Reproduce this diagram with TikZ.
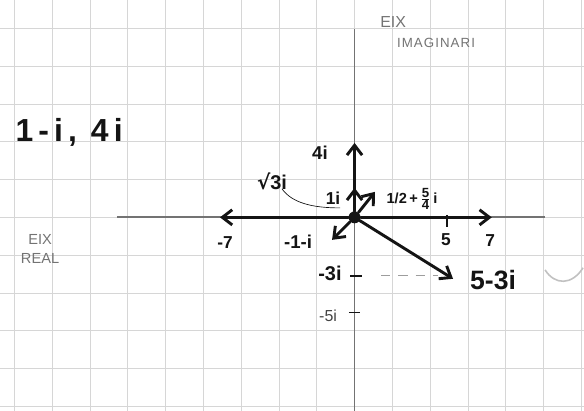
\documentclass[tikz,border=0pt]{standalone}
\usepackage{fontspec}
\setmainfont{Liberation Sans}
\newfontfamily\symfont{DejaVu Sans}
\usetikzlibrary{arrows.meta}
\definecolor{ink}{gray}{0.08}
\definecolor{pencil}{gray}{0.45}
\definecolor{paper}{gray}{0.84}

\tikzset{
  vec/.style={draw=ink, line width=2.2pt, line cap=round,
    -{Straight Barb[length=2.6mm,width=4mm]}},
  axisline/.style={draw=pencil, line width=1.4pt},
  tickline/.style={draw=ink, line width=1.3pt},
  lbl/.style={inner sep=0pt, text=ink},
}

\begin{document}
\begin{tikzpicture}[scale=0.5]
\useasboundingbox (-18.76,-10.24) rectangle (12.14,11.5);
\draw[paper, line width=0.5pt] (-18.76,-10.24) grid[step=2] (12.14,11.5);
% axes
\coordinate (xl) at (-12.57,0);
\coordinate (xr) at (10.08,0);
\coordinate (yt) at (0,9.97);
\coordinate (yb) at (0,-10.3);
\path [axisline] (xl) edge (xr);
\path [axisline] (yt) edge (yb);
% tips
\coordinate (t7) at (7.26,0);
\coordinate (tm7) at (-7.12,0);
\coordinate (t4i) at (0,3.94);
\coordinate (t1i) at (0,1.56);
\coordinate (tA) at (1.08,1.35);
\coordinate (tB) at (-1.19,-1.19);
\coordinate (tC) at (5.21,-3.25);
\node[circle, fill=ink, inner sep=0pt, minimum size=9pt] (O) at (0,0) {};
\path [vec] (O) edge (t7);
\path [vec] (O) edge (tm7);
\path [vec] (O) edge (t4i);
\path [vec] (O) edge (t1i);
\path [vec] (O) edge (tA);
\path [vec] (O) edge (tB);
\path [vec] (O) edge (tC);
% ticks
\coordinate (k5a) at (4.9,0.13);
\coordinate (k5b) at (4.9,-0.5);
\coordinate (k3a) at (-0.24,-3.1);
\coordinate (k3b) at (0.4,-3.1);
\coordinate (k5ia) at (-0.3,-5.04);
\coordinate (k5ib) at (0.3,-5.04);
\path [tickline] (k5a) edge (k5b);
\path [tickline] (k3a) edge (k3b);
\path [tickline] (k5ia) edge (k5ib);
\coordinate (d1) at (1.4,-3.07);
\coordinate (d2) at (4.4,-3.07);
\path [draw=pencil!70, line width=0.9pt, dash pattern=on 7pt off 6pt] (d1) edge (d2);
% labels
\begin{scope}[every node/.style={lbl}]
  \node[font=\fontsize{24}{26}\selectfont\bfseries\addfontfeatures{LetterSpace=16}] (list) at (-15.1,4.52) {1-i, 4i};
  \node[font=\fontsize{14}{14}\selectfont\bfseries] (l4i) at (-1.83,3.41) {4i};
  \node[font=\fontsize{15}{15}\selectfont\bfseries] (lr3) at (-4.37,1.88) {{\symfont √}3i};
  \node[font=\fontsize{13}{13}\selectfont\bfseries] (l1i) at (-1.14,1.03) {1i};
  \node[font=\fontsize{11}{11}\selectfont\bfseries] (lA) at (3.04,0.98) {1/2\,+\,$\frac{\mbox{\fontsize{10}{10}\selectfont\bfseries 5}}{\mbox{\fontsize{10}{10}\selectfont\bfseries 4}}$\,i};
  \node[font=\fontsize{14}{14}\selectfont\bfseries] (lB) at (-2.99,-1.30) {-1-i};
  \node[font=\fontsize{13}{13}\selectfont\bfseries] (lm7) at (-6.85,-1.35) {-7};
  \node[font=\fontsize{13}{13}\selectfont\bfseries] (l5) at (4.84,-1.19) {5};
  \node[font=\fontsize{13}{13}\selectfont\bfseries] (l7) at (7.17,-1.24) {7};
  \node[font=\fontsize{15}{15}\selectfont\bfseries] (lm3i) at (-1.30,-2.94) {-3i};
  \node[font=\fontsize{12}{12}\selectfont, text=ink!80] (lm5i) at (-1.4,-5.21) {-5i};
  \node[font=\fontsize{20}{20}\selectfont\bfseries] (lC) at (7.33,-3.31) {5-3i};
\end{scope}
\begin{scope}[every node/.style={inner sep=0pt, text=pencil}]
  \node[font=\fontsize{12}{12}\selectfont] (eixi) at (2.04,10.34) {EIX};
  \node[font=\fontsize{10}{10}\selectfont\addfontfeatures{LetterSpace=8}] (imag) at (4.31,9.23) {IMAGINARI};
  \node[font=\fontsize{11}{14}\selectfont, align=center] (real) at (-16.64,-1.67) {EIX\\REAL};
\end{scope}
% leader
\coordinate (ls) at (-3.84,1.51);
\coordinate (le) at (-0.77,0.5);
\draw[ink, line width=0.5pt] (ls) .. controls (-3.3,0.75) and (-2.2,0.5) .. (le);
% stray mark
\draw[paper!90!black, line width=1.2pt] (10.08,-2.78) .. controls (10.6,-3.6) and (11.5,-3.6) .. (12.09,-2.67);
\end{tikzpicture}
\end{document}
